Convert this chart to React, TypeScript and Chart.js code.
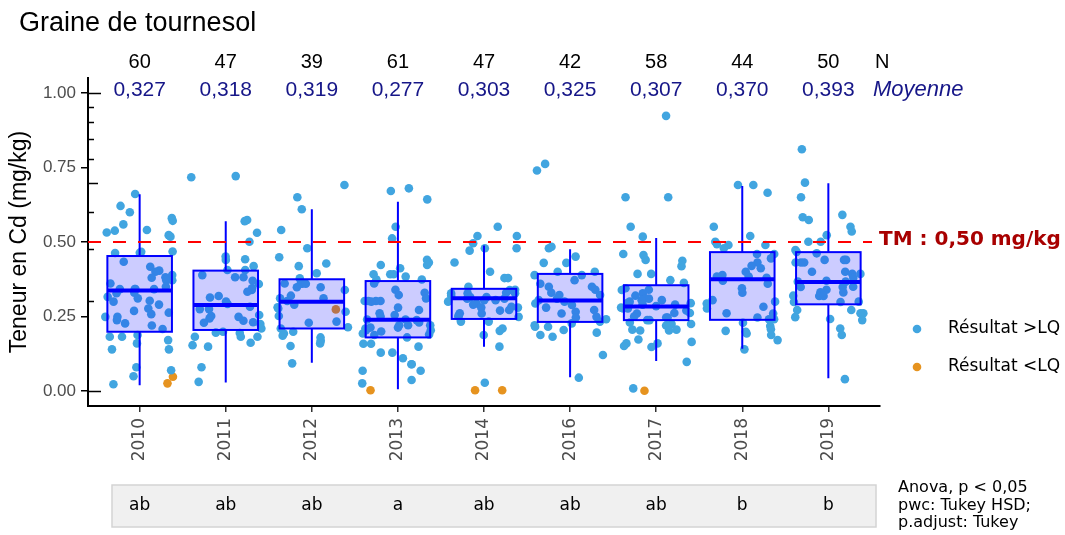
import React, { useEffect, useRef } from "react";
import { Chart, registerables } from "chart.js";

Chart.register(...registerables);

// ---------- data ----------
const years = ["2010", "2011", "2012", "2013", "2014", "2016", "2017", "2018", "2019"];
const counts = ["60", "47", "39", "61", "47", "42", "58", "44", "50"];
const means = ["0,327", "0,318", "0,319", "0,277", "0,303", "0,325", "0,307", "0,370", "0,393"];
const letters = ["ab", "ab", "ab", "a", "ab", "ab", "ab", "b", "b"];

const whiskerLow = [0.02, 0.029, 0.095, 0.006, 0.149, 0.046, 0.101, 0.142, 0.043];
const quart1 = [0.199, 0.205, 0.21, 0.18, 0.242, 0.232, 0.238, 0.239, 0.291];
const medians = [0.337, 0.289, 0.3, 0.239, 0.311, 0.304, 0.284, 0.375, 0.366];
const quart3 = [0.453, 0.404, 0.375, 0.369, 0.343, 0.393, 0.355, 0.466, 0.466];
const whiskerHigh = [0.66, 0.57, 0.61, 0.635, 0.488, 0.476, 0.513, 0.688, 0.697];

const yTicks = [0, 0.25, 0.5, 0.75, 1.0];
const tmValue = 0.5;
const tmLabel = "TM : 0,50 mg/kg";
const yTitle = "Teneur en Cd (mg/kg)";
const chartTitle = "Graine de tournesol";
const statLines = ["Anova, p < 0,05", "pwc: Tukey HSD;", "p.adjust: Tukey"];
const legendLabels = ["Résultat >LQ", "Résultat <LQ"];

// results above the limit of quantification (LQ), per year
const above2010 = [0.661, 0.621, 0.6, 0.58, 0.571, 0.559, 0.54, 0.538, 0.532, 0.523, 0.518, 0.468, 0.467, 0.464, 0.463, 0.434, 0.417, 0.404, 0.4, 0.389, 0.382, 0.38, 0.372, 0.372, 0.361, 0.35, 0.342, 0.342, 0.342, 0.342, 0.33, 0.328, 0.316, 0.311, 0.303, 0.3, 0.29, 0.277, 0.269, 0.263, 0.258, 0.249, 0.249, 0.238, 0.227, 0.22, 0.208, 0.188, 0.182, 0.182, 0.171, 0.16, 0.14, 0.14, 0.08, 0.07, 0.05, 0.023];
const above2011 = [0.721, 0.717, 0.574, 0.57, 0.531, 0.501, 0.451, 0.442, 0.44, 0.419, 0.406, 0.406, 0.389, 0.382, 0.382, 0.37, 0.359, 0.345, 0.339, 0.333, 0.319, 0.314, 0.3, 0.292, 0.283, 0.275, 0.275, 0.255, 0.252, 0.249, 0.244, 0.236, 0.231, 0.229, 0.225, 0.21, 0.199, 0.196, 0.195, 0.182, 0.182, 0.182, 0.162, 0.154, 0.149, 0.08, 0.031];
const above2012 = [0.691, 0.65, 0.61, 0.54, 0.479, 0.449, 0.428, 0.419, 0.395, 0.378, 0.361, 0.361, 0.36, 0.36, 0.348, 0.348, 0.339, 0.32, 0.311, 0.311, 0.302, 0.29, 0.281, 0.277, 0.266, 0.252, 0.233, 0.229, 0.214, 0.21, 0.199, 0.193, 0.186, 0.18, 0.169, 0.16, 0.151, 0.093];
const above2013 = [0.68, 0.671, 0.643, 0.551, 0.512, 0.44, 0.431, 0.423, 0.423, 0.412, 0.392, 0.392, 0.392, 0.384, 0.374, 0.374, 0.361, 0.34, 0.33, 0.322, 0.311, 0.302, 0.302, 0.302, 0.302, 0.3, 0.28, 0.272, 0.261, 0.255, 0.25, 0.24, 0.24, 0.238, 0.23, 0.221, 0.221, 0.221, 0.213, 0.213, 0.21, 0.204, 0.204, 0.2, 0.193, 0.19, 0.188, 0.18, 0.159, 0.159, 0.149, 0.129, 0.129, 0.11, 0.09, 0.09, 0.068, 0.068, 0.037, 0.026];
const above2014 = [0.551, 0.52, 0.52, 0.496, 0.479, 0.479, 0.471, 0.431, 0.4, 0.379, 0.379, 0.35, 0.34, 0.339, 0.33, 0.328, 0.328, 0.328, 0.32, 0.315, 0.315, 0.31, 0.31, 0.305, 0.305, 0.3, 0.294, 0.29, 0.283, 0.28, 0.28, 0.272, 0.27, 0.261, 0.26, 0.255, 0.25, 0.249, 0.233, 0.233, 0.21, 0.202, 0.188, 0.149, 0.028];
const above2016 = [0.762, 0.74, 0.484, 0.479, 0.451, 0.43, 0.43, 0.4, 0.4, 0.389, 0.389, 0.372, 0.36, 0.35, 0.35, 0.34, 0.33, 0.322, 0.322, 0.31, 0.305, 0.3, 0.294, 0.289, 0.28, 0.272, 0.266, 0.26, 0.249, 0.247, 0.241, 0.233, 0.227, 0.221, 0.216, 0.216, 0.205, 0.196, 0.188, 0.182, 0.121, 0.045];
const above2017 = [0.923, 0.65, 0.65, 0.551, 0.518, 0.46, 0.456, 0.44, 0.437, 0.419, 0.393, 0.393, 0.372, 0.363, 0.345, 0.34, 0.339, 0.328, 0.32, 0.311, 0.31, 0.305, 0.305, 0.3, 0.295, 0.295, 0.29, 0.29, 0.285, 0.28, 0.277, 0.277, 0.27, 0.262, 0.262, 0.26, 0.25, 0.247, 0.247, 0.238, 0.238, 0.23, 0.225, 0.225, 0.22, 0.206, 0.206, 0.203, 0.203, 0.173, 0.165, 0.16, 0.16, 0.151, 0.148, 0.098, 0.009];
const above2018 = [0.691, 0.691, 0.665, 0.551, 0.52, 0.501, 0.493, 0.49, 0.49, 0.479, 0.46, 0.46, 0.445, 0.431, 0.42, 0.412, 0.4, 0.389, 0.384, 0.384, 0.38, 0.37, 0.36, 0.345, 0.33, 0.305, 0.3, 0.294, 0.283, 0.277, 0.261, 0.26, 0.247, 0.241, 0.241, 0.229, 0.218, 0.207, 0.202, 0.199, 0.193, 0.188, 0.171, 0.14];
const above2019 = [0.811, 0.699, 0.65, 0.591, 0.583, 0.574, 0.551, 0.535, 0.523, 0.501, 0.501, 0.473, 0.467, 0.462, 0.44, 0.44, 0.44, 0.431, 0.431, 0.431, 0.4, 0.4, 0.393, 0.393, 0.38, 0.37, 0.367, 0.367, 0.35, 0.349, 0.349, 0.34, 0.331, 0.331, 0.32, 0.319, 0.319, 0.3, 0.299, 0.299, 0.272, 0.272, 0.261, 0.261, 0.248, 0.242, 0.238, 0.21, 0.188, 0.04];

// results below the LQ, per year
const below2010 = [0.048, 0.026];
const below2011: number[] = [];
const below2012 = [0.274];
const below2013 = [0.003];
const below2014 = [0.003, 0.003];
const below2016: number[] = [];
const below2017 = [0.001];
const below2018: number[] = [];
const below2019: number[] = [];

const aboveByYear = [above2010, above2011, above2012, above2013, above2014, above2016, above2017, above2018, above2019];
const belowByYear = [below2010, below2011, below2012, below2013, below2014, below2016, below2017, below2018, below2019];

// ---------- styling ----------
const BLUE_PT = "#41A5E0";
const ORANGE_PT = "#E6931F";
const BOX_BLUE = "#0000FF";
const MEAN_COLOR = "#161688";
const TM_COLOR = "#A80000";

// deterministic horizontal jitter (position only)
function jitter(group: number, k: number, salt: number): number {
  const s = Math.sin((group + 1) * 12.9898 + (k + 1) * 78.233 + salt * 37.719) * 43758.5453;
  return (s - Math.floor(s) - 0.5) * 0.84;
}

function toPoints(groups: number[][], salt: number) {
  const pts: { x: number; y: number }[] = [];
  groups.forEach((vals, g) => {
    vals.forEach((v, k) => pts.push({ x: g + jitter(g, k, salt), y: v }));
  });
  return pts;
}

const overlayPlugin = {
  id: "overlay",
  afterDatasetsDraw(chart: any) {
    const { ctx, chartArea: ca, scales } = chart;
    const xs = scales.x;
    const ys = scales.y;
    const unit = xs.getPixelForValue(1) - xs.getPixelForValue(0);
    const half = unit * 0.375;
    ctx.save();
    years.forEach((_, i) => {
      const cx = xs.getPixelForValue(i);
      const pLo = ys.getPixelForValue(whiskerLow[i]);
      const pQ1 = ys.getPixelForValue(quart1[i]);
      const pMed = ys.getPixelForValue(medians[i]);
      const pQ3 = ys.getPixelForValue(quart3[i]);
      const pHi = ys.getPixelForValue(whiskerHigh[i]);
      ctx.strokeStyle = BOX_BLUE;
      ctx.lineWidth = 2;
      ctx.beginPath();
      ctx.moveTo(cx, pQ3);
      ctx.lineTo(cx, pHi);
      ctx.moveTo(cx, pQ1);
      ctx.lineTo(cx, pLo);
      ctx.stroke();
      ctx.fillStyle = "rgba(0,0,255,0.2)";
      ctx.fillRect(cx - half, pQ3, 2 * half, pQ1 - pQ3);
      ctx.strokeRect(cx - half, pQ3, 2 * half, pQ1 - pQ3);
      ctx.lineWidth = 4;
      ctx.beginPath();
      ctx.moveTo(cx - half, pMed);
      ctx.lineTo(cx + half, pMed);
      ctx.stroke();
    });
    // threshold line
    const yTm = ys.getPixelForValue(tmValue);
    ctx.setLineDash([13, 12]);
    ctx.strokeStyle = "#FF0000";
    ctx.lineWidth = 2;
    ctx.beginPath();
    ctx.moveTo(ca.left, yTm);
    ctx.lineTo(ca.right - 8, yTm);
    ctx.stroke();
    ctx.setLineDash([]);
    ctx.restore();
  },
  afterDraw(chart: any) {
    const { ctx, chartArea: ca, scales } = chart;
    const xs = scales.x;
    const ys = scales.y;
    ctx.save();
    // log ticks on the inner side of the y axis
    ctx.strokeStyle = "#000";
    ctx.lineWidth = 1.5;
    for (let k = 1; k <= 10; k++) {
      const v = Math.log10(k);
      const py = Math.round(ys.getPixelForValue(v)) + 0.5;
      const len = k === 1 || k === 10 ? 13 : k === 5 ? 10 : 6;
      ctx.beginPath();
      ctx.moveTo(ca.left, py);
      ctx.lineTo(ca.left + len, py);
      ctx.stroke();
    }
    // title
    ctx.fillStyle = "#000";
    ctx.textBaseline = "middle";
    ctx.textAlign = "left";
    ctx.font = "27px 'Liberation Sans'";
    ctx.fillText(chartTitle, 19, 24);
    // N and means
    ctx.textAlign = "center";
    years.forEach((_, i) => {
      const cx = xs.getPixelForValue(i);
      ctx.fillStyle = "#000";
      ctx.font = "20px 'Liberation Sans'";
      ctx.fillText(counts[i], cx, 62);
      ctx.fillStyle = MEAN_COLOR;
      ctx.font = "21px 'Liberation Sans'";
      ctx.fillText(means[i], cx, 90);
    });
    ctx.textAlign = "left";
    ctx.fillStyle = "#000";
    ctx.font = "20px 'Liberation Sans'";
    ctx.fillText("N", ca.right - 5, 62);
    ctx.fillStyle = MEAN_COLOR;
    ctx.font = "italic 22px 'Liberation Sans'";
    ctx.fillText("Moyenne", ca.right - 7, 90);
    // TM label
    const yTm = ys.getPixelForValue(tmValue);
    ctx.fillStyle = TM_COLOR;
    ctx.font = "bold 20px 'DejaVu Sans'";
    ctx.fillText(tmLabel, ca.right - 1, yTm - 2);
    // legend
    const legendColors = [BLUE_PT, ORANGE_PT];
    legendLabels.forEach((lab, i) => {
      const ly = 329 + i * 38;
      ctx.fillStyle = legendColors[i];
      ctx.beginPath();
      ctx.arc(917, ly, 4.3, 0, Math.PI * 2);
      ctx.fill();
      ctx.fillStyle = "#000";
      ctx.font = "17px 'DejaVu Sans'";
      ctx.fillText(lab, 948, ly);
    });
    // letters box
    const bx0 = 112;
    const bx1 = 876;
    ctx.fillStyle = "#F0F0F0";
    ctx.fillRect(bx0, 485, bx1 - bx0, 42);
    ctx.strokeStyle = "#D4D4D4";
    ctx.lineWidth = 1.5;
    ctx.strokeRect(bx0, 485, bx1 - bx0, 42);
    ctx.fillStyle = "#000";
    ctx.textAlign = "center";
    ctx.font = "17px 'DejaVu Sans'";
    years.forEach((_, i) => {
      ctx.fillText(letters[i], xs.getPixelForValue(i), 506);
    });
    // stats text
    ctx.textAlign = "left";
    ctx.font = "16px 'DejaVu Sans'";
    statLines.forEach((t, i) => {
      ctx.fillText(t, 898, 488 + i * 17.5);
    });
    ctx.restore();
  },
};

export default function App() {
  const canvasRef = useRef<HTMLCanvasElement | null>(null);

  useEffect(() => {
    const canvas = canvasRef.current;
    if (!canvas) return;
    const chart = new Chart(canvas, {
      type: "scatter",
      data: {
        datasets: [
          {
            label: legendLabels[0],
            data: toPoints(aboveByYear, 1),
            backgroundColor: BLUE_PT,
            pointRadius: 4.3,
            pointBorderWidth: 0,
          },
          {
            label: legendLabels[1],
            data: toPoints(belowByYear, 7),
            backgroundColor: ORANGE_PT,
            pointRadius: 4.3,
            pointBorderWidth: 0,
          },
        ],
      },
      options: {
        responsive: false,
        animation: false,
        events: [],
        layout: { padding: { left: 0, top: 78, right: 185, bottom: 0 } },
        plugins: { legend: { display: false }, tooltip: { enabled: false } },
        scales: {
          x: {
            type: "linear",
            min: -0.6,
            max: 8.6,
            afterBuildTicks: (s: any) => {
              s.ticks = years.map((_, i) => ({ value: i }));
            },
            afterFit: (s: any) => {
              s.height = 129;
            },
            ticks: {
              callback: (v: any) => years[Math.round(Number(v))] ?? "",
              autoSkip: false,
              minRotation: 90,
              maxRotation: 90,
              color: "#4D4D4D",
              font: { family: "DejaVu Sans", size: 17 },
              padding: 6,
            },
            grid: { drawOnChartArea: false, drawTicks: true, tickLength: 6, color: "#333", lineWidth: 1.5 },
            border: { display: true, color: "#000", width: 2 },
          },
          y: {
            min: -0.05,
            max: 1.05,
            afterBuildTicks: (s: any) => {
              s.ticks = yTicks.map((v) => ({ value: v }));
            },
            afterFit: (s: any) => {
              s.width = 88;
            },
            ticks: {
              callback: (v: any) => Number(v).toFixed(2),
              color: "#4D4D4D",
              font: { family: "Liberation Sans", size: 17 },
              padding: 5,
            },
            grid: { drawOnChartArea: false, drawTicks: true, tickLength: 7, color: "#000", lineWidth: 1.5 },
            border: { display: true, color: "#000", width: 2 },
            title: {
              display: true,
              text: yTitle,
              color: "#000",
              font: { family: "Liberation Sans", size: 23 },
              padding: { top: 6, bottom: 0 },
            },
          },
        },
      },
      plugins: [overlayPlugin],
    } as any);
    return () => chart.destroy();
  }, []);

  return (
    <div style={{ position: "absolute", left: 0, top: 0, width: 1065, height: 535, background: "#fff" }}>
      <canvas ref={canvasRef} width={1065} height={535} />
    </div>
  );
}
